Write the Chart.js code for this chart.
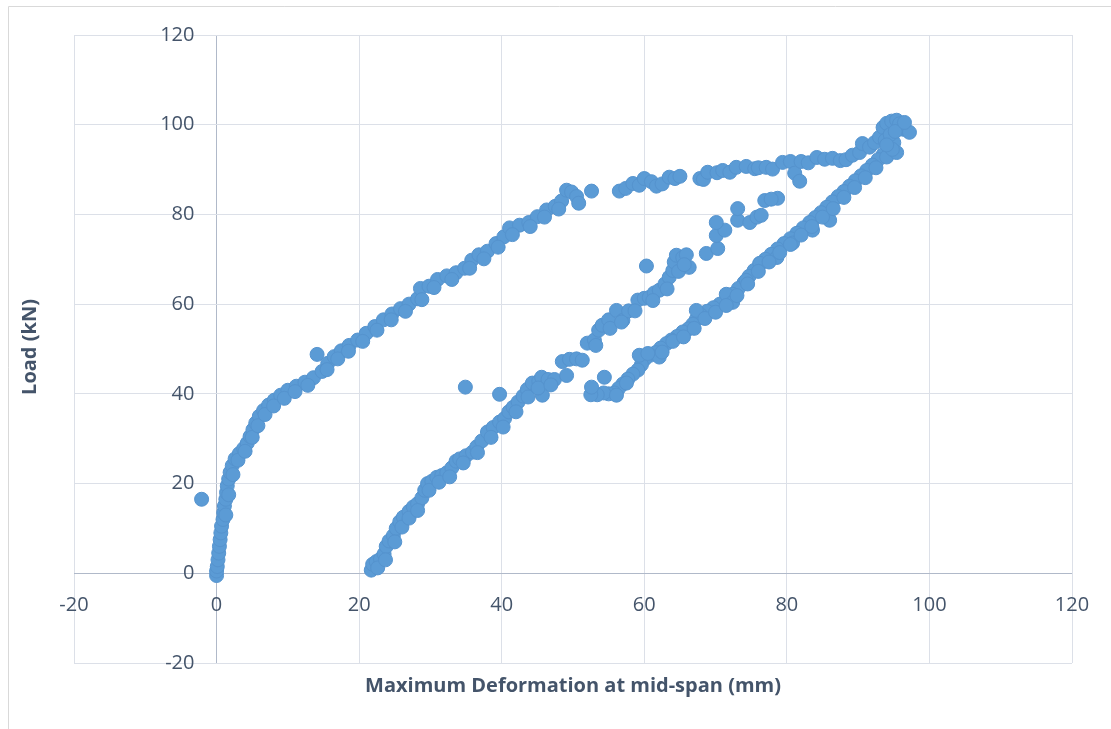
<!DOCTYPE html>
<html>
<head>
<meta charset="utf-8">
<script src="https://cdn.jsdelivr.net/npm/chart.js@4.4.1/dist/chart.umd.min.js"></script>
<style>
  body { margin: 0; background: #fff; }
  canvas { display: block; }
</style>
</head>
<body>
<canvas id="loadChart" width="1111" height="729"></canvas>
<script>
'use strict'

// 初期載荷 (0,0) -> ピーク
const loadX = [0, 0, 0.1, 0.2, 0.3, 0.4, 0.5, 0.6, 0.7, 0.9, 1.0, 1.1, 1.3, 1.4, 1.5, 1.7, 1.9, 2.2, 2.6, 3.2,
  3.8, 4.3, 4.7, 5.1, 5.5, 6.0, 6.6, 7.3, 8.1, 9.0, 10.0, 11.2, 12.4, 13.6, 14.1, 14.8, 15.6, 16.5, 17.5, 18.6,
  19.8, 21, 22.2, 23.4, 24.6, 25.8, 27, 28.2, 28.6, 29.8, 31, 32.3, 33.6, 34.8, 35.8, 36.8, 38, 39.2, 40.3, 41.1,
  42.5, 43.8, 45, 46.3, 47.5, 48.4, 49.1, 49.8, 50.5, 50.8, 52.6, 56.5, 57.4, 58.4, 59.3, 60, 61, 61.7, 62.5, 63.5,
  64.3, 65, 67.8, 68.3, 68.9, 70.2, 71, 72, 72.9, 74.3, 75.5, 76, 77.1, 78, 79.4, 80.5, 81.1, 81.8, 82, 83,
  84.2, 85.3, 86.4, 87.5, 88.3, 89.2, 90.2, 90.6, 91.6, 92.3, 93, 93.5, 94, 94.7, 95.4, 95.8, 96.3, 97.2, 95.4, 94.8,
  -2.1,
  1.3, 1.7, 2.3, 3.0, 4.0, 5.0, 5.8, 6.8, 8, 9.5, 11, 12.8, 15.5, 17, 18.5, 20.5, 22.5, 24.5, 26.5, 28.8,
  30.5, 33, 35.5, 37.5, 39.5, 41.5, 44, 46, 48, 93.8, 94.5, 95.2, 96.5, 94];
const loadY = [-0.5, 0.5, 1.5, 3, 4.5, 6, 7.5, 9, 10.5, 12, 13.5, 15, 16.5, 18, 19.5, 21, 22.5, 24, 25.5, 26.7,
  27.8, 29, 30.5, 32, 33.5, 35, 36.3, 37.5, 38.6, 39.7, 40.8, 41.7, 42.6, 43.6, 48.8, 45, 46.8, 48.3, 49.6, 50.8,
  52, 53.5, 55, 56.5, 57.8, 59, 60, 61.2, 63.5, 64, 65.5, 66.3, 67, 68, 69.8, 71, 71.8, 73.5, 75, 77,
  77.6, 78.2, 79.5, 81, 81.8, 83, 85.4, 85, 84, 82.5, 85.2, 85.2, 85.8, 86.9, 86.5, 88, 87.3, 86.3, 86.8, 88.3,
  88, 88.5, 88, 87.8, 89.4, 89.3, 89.8, 89.4, 90.5, 90.7, 90.2, 90.4, 90.5, 90.1, 91.6, 91.8, 89.2, 87.4, 91.8, 91.5,
  92.7, 92.3, 92.5, 92, 92.2, 93.2, 93.8, 95.8, 95, 96, 97.2, 99.4, 100.3, 100.8, 101, 100.2, 99, 98.3, 93.8, 94.5,
  16.5,
  13, 17.5, 22, 25.2, 27.2, 30.3, 32.9, 35.4, 37.3, 39, 40.5, 41.9, 45.4, 47.8, 49.5, 51.7, 54.2, 56.5, 58.4, 61,
  63.7, 65.5, 68, 70.1, 72.7, 75.5, 77.3, 79.4, 81.2, 96.5, 97.8, 98.5, 100.5, 95.5];

// ピーク -> (52, 40) 付近
const unloadX = [95, 94.2, 93.5, 92.8, 92, 91.2, 90.4, 89.6, 88.8, 88, 87.2, 86.4, 85.6, 84.8, 84, 83.2, 82.3, 81.4, 80.5, 79.6,
  78.7, 77.8, 77, 76.2, 75.4, 74.7, 74, 73.2, 72.4, 71.5, 70.6, 69.7, 68.8, 67.9, 67.3, 66.8, 66.2, 65.4, 64.6, 63.8,
  63.1, 62.3, 61.6, 60.8, 60.1, 59.6, 59.1, 58.4, 57.7, 57, 56.4, 55.8, 55, 54.3, 53.4, 52.5, 52.6, 54.4, 56.1, 57.5,
  62.1, 59.3, 60.5, 67.3, 71.5, 72.4, 74.3, 76.2, 78.6, 80.8, 83.6, 86,
  62.5, 64, 65.5, 67, 68.5, 70, 71.5, 73, 74.5, 76, 77.5, 79, 80.5, 82, 83.5, 85, 86.5, 88, 89.5, 91,
  92.5, 94];
const unloadY = [96, 94.5, 93.3, 92.2, 91, 89.8, 88.6, 87.5, 86.3, 85.1, 84, 82.8, 81.6, 80.4, 79.3, 78.2, 77, 75.8, 74.6, 73.5,
  72.3, 71.1, 70, 68.9, 67.5, 66.2, 64.8, 63.5, 62.2, 61, 60, 59.2, 58.4, 57.6, 56.6, 55.5, 54.5, 53.8, 52.8, 52,
  51.2, 50.2, 49.2, 48.6, 47.8, 46.5, 45.3, 44.4, 43.3, 42.2, 41.2, 40.2, 40, 40.2, 39.8, 39.8, 41.5, 43.7, 39.7, 42.4,
  48.2, 48.6, 49, 58.6, 62.2, 60.4, 65.3, 69.1, 70.4, 73.6, 76.5, 78.7,
  49.3, 51.7, 52.7, 54.6, 56.8, 58.2, 59.7, 61.9, 64.5, 67.3, 69.4, 71.5, 73.3, 75.4, 77.3, 79.4, 81.3, 83.8, 86, 88.2,
  90.4, 92.8];

// (22, 0) -> (79, 84) 付近
const reloadX = [21.7, 21.9, 22.4, 23, 23.5, 23.8, 24.2, 24.8, 25.2, 25.7, 26.2, 27, 27.6, 28.2, 28.8, 29.2, 29.6, 30.2, 30.9, 31.6,
  32.3, 33, 33.6, 34.1, 35, 35.9, 36.5, 37.2, 38, 38.8, 39.7, 40.4, 41, 41.6, 42.3, 43, 43.6, 44.3, 45.2, 45.7,
  45.6, 46.5, 47.4, 49.1, 48.5, 49.5, 50.5, 51.3, 52, 53, 53.6, 54.1, 55, 56.1, 57, 57.8, 59.1, 60, 60.7, 61.4,
  62.1, 62.9, 63.5, 64, 64.2, 64.5, 65.4, 65.9, 66.3, 68.7, 70.3, 70.1, 71.3, 70.1, 73.1, 73.1, 74.8, 75.8, 76.4, 76.9,
  78.7, 77.8, 34.9, 39.7, 60.3,
  22.6, 23.7, 25, 26, 27, 28.2, 29.8, 31.2, 32.7, 34.6, 36.6, 38.5, 40.2, 42, 43.7, 45.1, 46.9, 53.2, 55.2, 56.8,
  58.7, 61.2, 63.2, 64.8, 65.6];
const reloadY = [0.7, 2, 2.6, 3.2, 4.3, 6, 7.2, 8.4, 10, 11.5, 12.5, 13.8, 14.8, 15.5, 16.8, 18.5, 20, 20.5, 21.4, 21.8,
  22.4, 23.5, 25, 25.5, 26.2, 27, 28.2, 29.5, 31.5, 32.5, 33.7, 34.5, 36, 37, 38.2, 39.5, 41, 42.4, 42.8, 39.7,
  43.7, 43.2, 43.2, 44.1, 47.2, 47.7, 47.8, 47.5, 51.3, 52, 54.2, 55.3, 56.5, 58.6, 56.4, 58.5, 60.9, 61.3, 61.5, 62.5,
  63.1, 64.5, 66, 67.5, 69.4, 70.9, 70.4, 71, 68.2, 71.3, 72.4, 75.3, 76.5, 78.2, 78.7, 81.3, 78.2, 79.4, 79.8, 83.1,
  83.6, 83.4, 41.5, 39.9, 68.5,
  1.2, 3, 7, 10.3, 12.3, 14, 18.5, 20.3, 21.5, 24.6, 26.9, 30.3, 32.6, 36, 39.3, 41.3, 42, 50.8, 54.6, 56,
  58.5, 60.8, 63.4, 67.3, 68.8];

const axisMin = -20;
const axisMax = 120;
const axisStep = 20;

const xTitle = "Maximum Deformation at mid-span (mm)";
const yTitle = "Load (kN)";

function toPoints(xs, ys) {
    return xs.map((x, i) => ({ x: x, y: ys[i] }));
}

const markerStyle = {
    backgroundColor: "#5B9BD5",
    borderColor: "#5593CE",
    borderWidth: 1,
    pointRadius: 7,
    pointHoverRadius: 7
};

const gridColor = (ctx) => (ctx.tick && ctx.tick.value === 0) ? "#B0B9C9" : "#DCE0E8";

// 枠線と軸タイトル
const frameAndTitles = {
    id: "frameAndTitles",
    beforeDraw(chart) {
        const c = chart.ctx;
        c.save();
        c.strokeStyle = "#D9D9D9";
        c.lineWidth = 1;
        c.beginPath();
        c.moveTo(8.5, chart.height);
        c.lineTo(8.5, 6.5);
        c.lineTo(chart.width, 6.5);
        c.stroke();
        c.restore();
    },
    afterDraw(chart) {
        const c = chart.ctx;
        c.save();
        c.fillStyle = "#44546A";
        c.font = "bold 20px 'Open Sans'";
        c.textAlign = "center";
        c.textBaseline = "middle";
        c.fillText(xTitle, 573, 686);
        c.translate(30, 347);
        c.rotate(-Math.PI / 2);
        c.fillText(yTitle, 0, 0);
        c.restore();
    }
};

Chart.defaults.font.family = "'Open Sans', sans-serif";

new Chart(document.getElementById("loadChart"), {
    type: "scatter",
    data: {
        datasets: [
            Object.assign({ label: "loading", data: toPoints(loadX, loadY) }, markerStyle),
            Object.assign({ label: "unloading", data: toPoints(unloadX, unloadY) }, markerStyle),
            Object.assign({ label: "reloading", data: toPoints(reloadX, reloadY) }, markerStyle)
        ]
    },
    options: {
        responsive: false,
        animation: false,
        layout: { padding: { left: 74, top: 35, right: 39, bottom: 66 } },
        plugins: {
            legend: { display: false },
            tooltip: { enabled: false }
        },
        scales: {
            x: {
                type: "linear",
                min: axisMin,
                max: axisMax,
                position: { y: 0 },
                afterFit: (scale) => { scale.height = 0; },
                border: { display: false },
                grid: { color: gridColor, drawTicks: false, lineWidth: 1 },
                ticks: { stepSize: axisStep, color: "#44546A", font: { size: 20 }, padding: 20 }
            },
            y: {
                type: "linear",
                min: axisMin,
                max: axisMax,
                position: { x: -3.1 },
                afterFit: (scale) => { scale.width = 0; },
                border: { display: false },
                grid: { color: gridColor, drawTicks: false, lineWidth: 1 },
                ticks: { stepSize: axisStep, color: "#44546A", font: { size: 20 } }
            }
        }
    },
    plugins: [frameAndTitles]
});
</script>
</body>
</html>
